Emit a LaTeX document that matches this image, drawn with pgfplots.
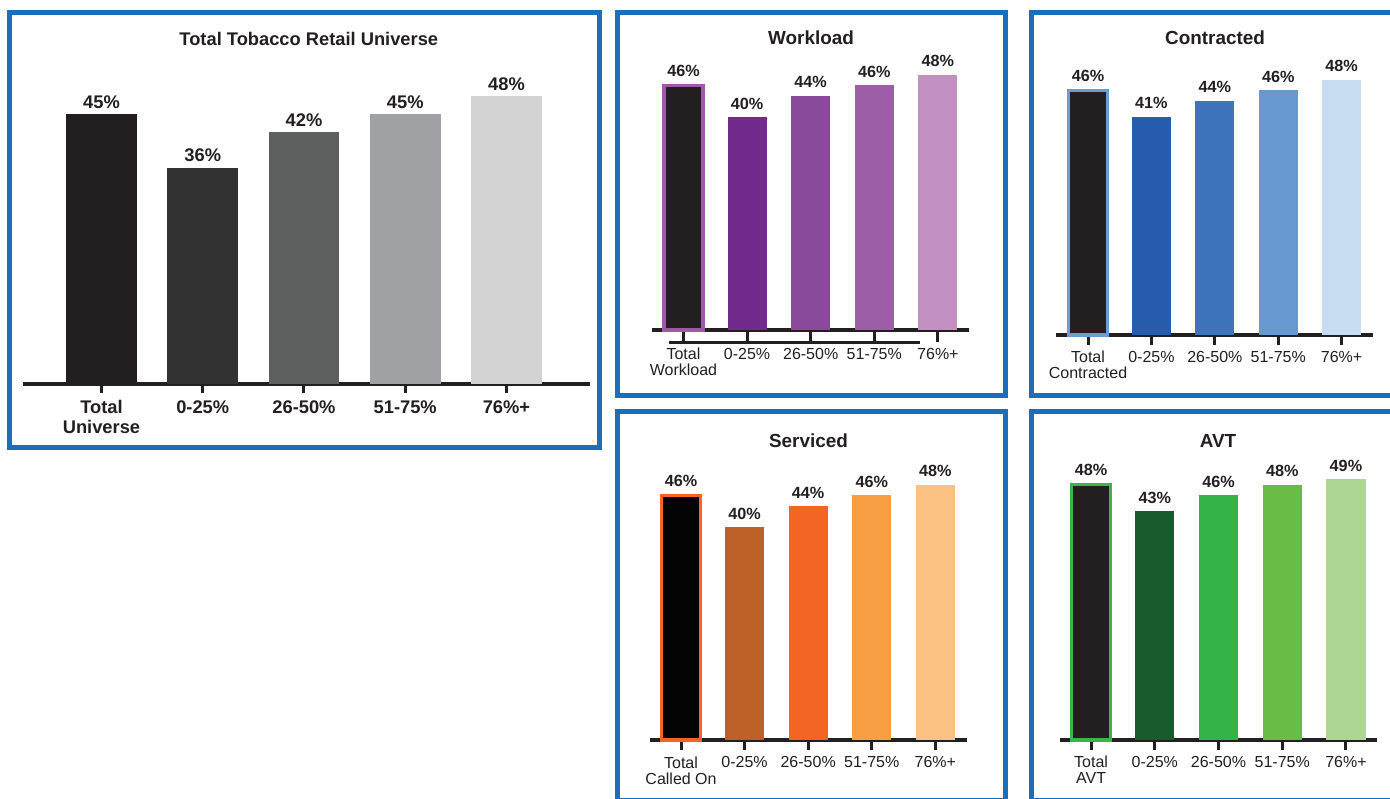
\documentclass[border=0pt]{standalone}
\usepackage{fontspec}
\setmainfont{Liberation Sans}
\usepackage{pgfplots}
\pgfplotsset{compat=1.18}

% palette
\definecolor{ink}{HTML}{231F20}
\definecolor{frameblue}{HTML}{1A6FBD}
% total universe greys
\definecolor{gA}{HTML}{323232}
\definecolor{gB}{HTML}{5E5F5F}
\definecolor{gC}{HTML}{A0A1A4}
\definecolor{gD}{HTML}{D3D3D4}
% workload purples
\definecolor{pO}{HTML}{9B5BA6}
\definecolor{pA}{HTML}{702B8D}
\definecolor{pB}{HTML}{8A4A9C}
\definecolor{pC}{HTML}{9C5FA7}
\definecolor{pD}{HTML}{C291C2}
% contracted blues
\definecolor{bO}{HTML}{6C9CD4}
\definecolor{bA}{HTML}{275BAB}
\definecolor{bB}{HTML}{3D74BC}
\definecolor{bC}{HTML}{6898D0}
\definecolor{bD}{HTML}{C7DDF2}
% serviced oranges
\definecolor{oK}{HTML}{040404}
\definecolor{oO}{HTML}{F26522}
\definecolor{oA}{HTML}{BD6129}
\definecolor{oB}{HTML}{F26522}
\definecolor{oC}{HTML}{F79F42}
\definecolor{oD}{HTML}{FBC182}
% avt greens
\definecolor{vO}{HTML}{3AB54A}
\definecolor{vA}{HTML}{1A5B2E}
\definecolor{vB}{HTML}{33B34A}
\definecolor{vC}{HTML}{6ABC45}
\definecolor{vD}{HTML}{ADD694}

\pgfplotsset{
  /pgf/number format/assume math mode=true,
  panel/.style={
    scale only axis,
    anchor=south west,
    ybar, bar shift=0pt,
    ymin=0, ymax=50,
    axis y line=none,
    axis x line=bottom,
    x axis line style={-, line width=1.7pt, color=ink},
    xtick={0,1,2,3,4},
    tick align=outside,
    xtick style={line width=1.5pt, color=ink},
    xticklabel style={align=center, anchor=north, inner sep=0pt, text=ink},
    clip=false,
    nodes near coords={\pgfmathprintnumber{\pgfplotspointmeta}\%},
    every node near coord/.append style={anchor=south, inner sep=0pt, text=ink},
  },
  small panel/.style={
    panel,
    height=133pt,
    width=158.5pt,
    bar width=0.614,
    major tick length=5pt,
    xticklabel style={font=\fontsize{8}{8}\selectfont, yshift=-3pt},
    every node near coord/.append style={font=\bfseries\fontsize{8.1}{9}\selectfont, yshift=3.7pt},
  },
}

\newcommand{\onebar}[3]{\addplot[fill=#3, draw=none] coordinates {(#1,#2)};}

\begin{document}
\begin{tikzpicture}[x=0.5pt,y=0.5pt]
\useasboundingbox (0,0) rectangle (1390,798);
\clip (0,0) rectangle (1390,798);

% ---------------- Total Tobacco Retail Universe ----------------
\begin{axis}[panel,
  at={(11.35pt,207pt)},
  width=283.65pt, height=150pt,
  xmin=-0.778, xmax=4.825,
  bar width=0.70,
  major tick length=4.5pt,
  xticklabels={{Total\\Universe},0-25\%,26-50\%,51-75\%,76\%+},
  xticklabel style={font=\bfseries\fontsize{9.15}{10}\selectfont, yshift=-3.5pt},
  every node near coord/.append style={font=\bfseries\fontsize{9.15}{10}\selectfont, yshift=2.7pt},
]
\onebar{0}{45}{ink}
\onebar{1}{36}{gA}
\onebar{2}{42}{gB}
\onebar{3}{45}{gC}
\onebar{4}{48}{gD}
\end{axis}
\node[anchor=base, text=ink, font=\bfseries\fontsize{9.15}{10}\selectfont] at (308.8,752) {Total Tobacco Retail Universe};

% ---------------- Workload ----------------
\begin{axis}[small panel,
  at={(326.15pt,234pt)},
  xmin=-0.49, xmax=4.494,
  major tick length=6pt,
  xticklabels={{Total\\Workload},0-25\%,26-50\%,51-75\%,76\%+},
]
\addplot[fill=ink, draw=pO, line width=1.65pt] coordinates {(0,46)};
\onebar{1}{40}{pA}
\onebar{2}{44}{pB}
\onebar{3}{46}{pC}
\onebar{4}{48}{pD}
\draw[line width=1.5pt, ink] (axis cs:-0.228,-2.26) -- (axis cs:3.72,-2.26);
\end{axis}
\node[anchor=base, text=ink, font=\bfseries\fontsize{9.45}{11}\selectfont] at (811,753) {Workload};

% ---------------- Contracted ----------------
\begin{axis}[small panel,
  at={(528pt,231.5pt)},
  xmin=-0.505, xmax=4.495,
  xticklabels={{Total\\Contracted},0-25\%,26-50\%,51-75\%,76\%+},
]
\addplot[fill=ink, draw=bO, line width=1.65pt] coordinates {(0,46)};
\onebar{1}{41}{bA}
\onebar{2}{44}{bB}
\onebar{3}{46}{bC}
\onebar{4}{48}{bD}
\end{axis}
\node[anchor=base, text=ink, font=\bfseries\fontsize{9.45}{11}\selectfont] at (1215,753) {Contracted};

% ---------------- Serviced ----------------
\begin{axis}[small panel,
  at={(325pt,29pt)},
  xmin=-0.488, xmax=4.499,
  xticklabels={{Total\\Called On},0-25\%,26-50\%,51-75\%,76\%+},
]
\addplot[fill=oK, draw=oO, line width=1.65pt] coordinates {(0,46)};
\onebar{1}{40}{oA}
\onebar{2}{44}{oB}
\onebar{3}{46}{oC}
\onebar{4}{48}{oD}
\end{axis}
\node[anchor=base, text=ink, font=\bfseries\fontsize{9.45}{11}\selectfont] at (808.5,350) {Serviced};

% ---------------- AVT ----------------
\begin{axis}[small panel,
  at={(530pt,29pt)},
  xmin=-0.488, xmax=4.488,
  xticklabels={{Total\\AVT},0-25\%,26-50\%,51-75\%,76\%+},
]
\addplot[fill=ink, draw=vO, line width=1.65pt] coordinates {(0,48)};
\onebar{1}{43}{vA}
\onebar{2}{46}{vB}
\onebar{3}{48}{vC}
\onebar{4}{49}{vD}
\end{axis}
\node[anchor=base, text=ink, font=\bfseries\fontsize{9.45}{11}\selectfont] at (1218,350) {AVT};

% ---------------- panel frames ----------------
\begin{scope}[line width=2.5pt, frameblue]
\draw (9.5,785.5) rectangle (599.5,350.5);
\draw (617.5,785.5) rectangle (1005.5,402.5);
\draw (1031,785.5) rectangle (1400,402.5);
\draw (617.5,386) rectangle (1005.5,-2);
\draw (1031,386) rectangle (1400,-2);
\end{scope}
\end{tikzpicture}
\end{document}
